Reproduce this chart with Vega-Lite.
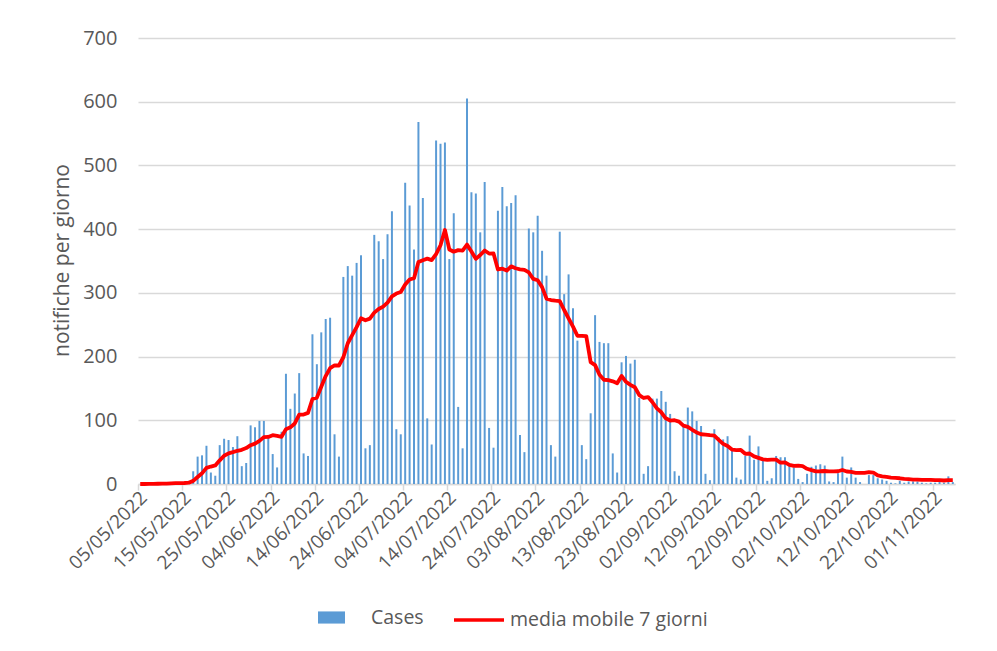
{
  "$schema": "https://vega.github.io/schema/vega-lite/v6.json",
  "width": 817,
  "height": 446,
  "autosize": {"type": "none"},
  "padding": {"left": 138, "top": 38, "right": 42, "bottom": 167},
  "background": "white",
  "config": {"view": {"stroke": null}, "font": "Open Sans"},
  "data": {"values": [
    {"d":"05/05/2022","c":0,"m":0},{"d":"06/05/2022","c":0,"m":0},{"d":"07/05/2022","c":2,"m":0.3},{"d":"08/05/2022","c":0,"m":0.3},{"d":"09/05/2022","c":1,"m":0.4},{"d":"10/05/2022","c":1,"m":0.6},{"d":"11/05/2022","c":1,"m":0.7},{"d":"12/05/2022","c":3,"m":1.1},{"d":"13/05/2022","c":1,"m":1.3},{"d":"14/05/2022","c":3,"m":1.4},{"d":"15/05/2022","c":1,"m":1.6},{"d":"16/05/2022","c":5,"m":2.1},{"d":"17/05/2022","c":20,"m":4.9},{"d":"18/05/2022","c":43,"m":10.9},{"d":"19/05/2022","c":45,"m":16.9},{"d":"20/05/2022","c":60,"m":25.3},{"d":"21/05/2022","c":18,"m":27.4},{"d":"22/05/2022","c":13,"m":29.1},{"d":"23/05/2022","c":61,"m":37.1},{"d":"24/05/2022","c":71,"m":44.4},{"d":"25/05/2022","c":69,"m":48.1},{"d":"26/05/2022","c":58,"m":50},{"d":"27/05/2022","c":75,"m":52.1},{"d":"28/05/2022","c":28,"m":53.6},{"d":"29/05/2022","c":33,"m":56.4},{"d":"30/05/2022","c":92,"m":60.9},{"d":"31/05/2022","c":89,"m":63.4},
    {"d":"01/06/2022","c":99,"m":67.7},{"d":"02/06/2022","c":99,"m":73.6},{"d":"03/06/2022","c":77,"m":73.9},{"d":"04/06/2022","c":47,"m":76.6},{"d":"05/06/2022","c":26,"m":75.6},{"d":"06/06/2022","c":82,"m":74.1},{"d":"07/06/2022","c":173,"m":86.1},{"d":"08/06/2022","c":118,"m":88.9},{"d":"09/06/2022","c":142,"m":95},{"d":"10/06/2022","c":174,"m":108.9},{"d":"11/06/2022","c":48,"m":109},{"d":"12/06/2022","c":44,"m":111.6},{"d":"13/06/2022","c":235,"m":133.4},{"d":"14/06/2022","c":188,"m":135.6},{"d":"15/06/2022","c":238,"m":152.7},{"d":"16/06/2022","c":259,"m":169.4},{"d":"17/06/2022","c":261,"m":181.9},{"d":"18/06/2022","c":78,"m":186.1},{"d":"19/06/2022","c":43,"m":186},{"d":"20/06/2022","c":325,"m":198.9},{"d":"21/06/2022","c":342,"m":220.9},{"d":"22/06/2022","c":327,"m":233.6},{"d":"23/06/2022","c":347,"m":246.1},{"d":"24/06/2022","c":359,"m":260.1},{"d":"25/06/2022","c":56,"m":257},{"d":"26/06/2022","c":61,"m":259.6},{"d":"27/06/2022","c":391,"m":269},{"d":"28/06/2022","c":381,"m":274.6},{"d":"29/06/2022","c":353,"m":278.3},{"d":"30/06/2022","c":392,"m":284.7},
    {"d":"01/07/2022","c":428,"m":294.6},{"d":"02/07/2022","c":86,"m":298.9},{"d":"03/07/2022","c":78,"m":301.3},{"d":"04/07/2022","c":473,"m":313},{"d":"05/07/2022","c":437,"m":321},{"d":"06/07/2022","c":368,"m":323.1},{"d":"07/07/2022","c":568,"m":348.3},{"d":"08/07/2022","c":449,"m":351.3},{"d":"09/07/2022","c":103,"m":353.7},{"d":"10/07/2022","c":62,"m":351.4},{"d":"11/07/2022","c":539,"m":360.9},{"d":"12/07/2022","c":534,"m":374.7},{"d":"13/07/2022","c":536,"m":398.7},{"d":"14/07/2022","c":353,"m":368},{"d":"15/07/2022","c":425,"m":364.6},{"d":"16/07/2022","c":121,"m":367.1},{"d":"17/07/2022","c":56,"m":366.3},{"d":"18/07/2022","c":605,"m":375.7},{"d":"19/07/2022","c":458,"m":364.9},{"d":"20/07/2022","c":456,"m":353.4},{"d":"21/07/2022","c":395,"m":359.4},{"d":"22/07/2022","c":474,"m":366.4},{"d":"23/07/2022","c":88,"m":361.7},{"d":"24/07/2022","c":57,"m":361.9},{"d":"25/07/2022","c":429,"m":336.7},{"d":"26/07/2022","c":466,"m":337.9},{"d":"27/07/2022","c":436,"m":335},{"d":"28/07/2022","c":441,"m":341.6},{"d":"29/07/2022","c":453,"m":338.6},{"d":"30/07/2022","c":77,"m":337},{"d":"31/07/2022","c":50,"m":336},
    {"d":"01/08/2022","c":401,"m":332},{"d":"02/08/2022","c":395,"m":321.9},{"d":"03/08/2022","c":421,"m":319.7},{"d":"04/08/2022","c":366,"m":309},{"d":"05/08/2022","c":327,"m":291},{"d":"06/08/2022","c":61,"m":288.7},{"d":"07/08/2022","c":43,"m":287.7},{"d":"08/08/2022","c":396,"m":287},{"d":"09/08/2022","c":298,"m":273.1},{"d":"10/08/2022","c":329,"m":260},{"d":"11/08/2022","c":276,"m":247.1},{"d":"12/08/2022","c":225,"m":232.6},{"d":"13/08/2022","c":61,"m":232.6},{"d":"14/08/2022","c":39,"m":232},{"d":"15/08/2022","c":111,"m":191.3},{"d":"16/08/2022","c":265,"m":186.6},{"d":"17/08/2022","c":223,"m":171.4},{"d":"18/08/2022","c":221,"m":163.6},{"d":"19/08/2022","c":221,"m":163},{"d":"20/08/2022","c":48,"m":161.1},{"d":"21/08/2022","c":18,"m":158.1},{"d":"22/08/2022","c":191,"m":169.6},{"d":"23/08/2022","c":201,"m":160.4},{"d":"24/08/2022","c":189,"m":155.6},{"d":"25/08/2022","c":195,"m":151.9},{"d":"26/08/2022","c":135,"m":139.6},{"d":"27/08/2022","c":16,"m":135},{"d":"28/08/2022","c":28,"m":136.4},{"d":"29/08/2022","c":134,"m":128.3},{"d":"30/08/2022","c":134,"m":118.7},{"d":"31/08/2022","c":146,"m":112.6},
    {"d":"01/09/2022","c":129,"m":103.1},{"d":"02/09/2022","c":110,"m":99.6},{"d":"03/09/2022","c":20,"m":100.1},{"d":"04/09/2022","c":13,"m":98},{"d":"05/09/2022","c":90,"m":91.7},{"d":"06/09/2022","c":120,"m":89.7},{"d":"07/09/2022","c":114,"m":85.1},{"d":"08/09/2022","c":99,"m":80.9},{"d":"09/09/2022","c":91,"m":78.1},{"d":"10/09/2022","c":16,"m":77.6},{"d":"11/09/2022","c":6,"m":76.6},{"d":"12/09/2022","c":86,"m":76},{"d":"13/09/2022","c":73,"m":69.3},{"d":"14/09/2022","c":70,"m":63},{"d":"15/09/2022","c":75,"m":59.6},{"d":"16/09/2022","c":53,"m":54.1},{"d":"17/09/2022","c":10,"m":53.3},{"d":"18/09/2022","c":7,"m":53.4},{"d":"19/09/2022","c":44,"m":47.4},{"d":"20/09/2022","c":76,"m":47.9},{"d":"21/09/2022","c":38,"m":43.3},{"d":"22/09/2022","c":59,"m":41},{"d":"23/09/2022","c":37,"m":38.7},{"d":"24/09/2022","c":5,"m":38},{"d":"25/09/2022","c":9,"m":38.3},{"d":"26/09/2022","c":44,"m":38.3},{"d":"27/09/2022","c":42,"m":33.4},{"d":"28/09/2022","c":42,"m":34},{"d":"29/09/2022","c":30,"m":29.9},{"d":"30/09/2022","c":26,"m":28.3},
    {"d":"01/10/2022","c":8,"m":28.7},{"d":"02/10/2022","c":3,"m":27.9},{"d":"03/10/2022","c":16,"m":23.9},{"d":"04/10/2022","c":27,"m":21.7},{"d":"05/10/2022","c":29,"m":19.9},{"d":"06/10/2022","c":31,"m":20},{"d":"07/10/2022","c":29,"m":20.4},{"d":"08/10/2022","c":4,"m":19.9},{"d":"09/10/2022","c":3,"m":19.9},{"d":"10/10/2022","c":17,"m":20},{"d":"11/10/2022","c":43,"m":22},{"d":"12/10/2022","c":10,"m":19.6},{"d":"13/10/2022","c":26,"m":18.9},{"d":"14/10/2022","c":10,"m":17.5},{"d":"15/10/2022","c":3,"m":17.5},{"d":"16/10/2022","c":0,"m":17.5},{"d":"17/10/2022","c":14,"m":18.5},{"d":"18/10/2022","c":14,"m":18},{"d":"19/10/2022","c":9,"m":13.5},{"d":"20/10/2022","c":7,"m":12},{"d":"21/10/2022","c":5,"m":11},{"d":"22/10/2022","c":2,"m":10},{"d":"23/10/2022","c":1,"m":9.5},{"d":"24/10/2022","c":5,"m":9},{"d":"25/10/2022","c":2,"m":8},{"d":"26/10/2022","c":4,"m":7.5},{"d":"27/10/2022","c":4,"m":7},{"d":"28/10/2022","c":4,"m":7},{"d":"29/10/2022","c":2,"m":6.5},{"d":"30/10/2022","c":1,"m":6.5},{"d":"31/10/2022","c":2,"m":6.5},
    {"d":"01/11/2022","c":2,"m":6},{"d":"02/11/2022","c":4,"m":6},{"d":"03/11/2022","c":2,"m":5.5},{"d":"04/11/2022","c":12,"m":6},{"d":"05/11/2022","c":3,"m":6}
  ]},
  "encoding": {
    "x": {
      "field": "d",
      "type": "ordinal",
      "sort": null,
      "scale": {"paddingInner": 0.55, "paddingOuter": 0.275},
      "axis": {
        "values": ["05/05/2022","15/05/2022","25/05/2022","04/06/2022","14/06/2022","24/06/2022","04/07/2022","14/07/2022","24/07/2022","03/08/2022","13/08/2022","23/08/2022","02/09/2022","12/09/2022","22/09/2022","02/10/2022","12/10/2022","22/10/2022","01/11/2022"],
        "bandPosition": 0,
        "tickOffset": -1.2,
        "title": null,
        "grid": false,
        "labelAngle": -45,
        "labelFont": "Open Sans",
        "labelFontSize": 19,
        "labelColor": "#595959",
        "labelOverlap": false,
        "labelPadding": -2,
        "labelOffset": -2,
        "tickSize": 6,
        "tickColor": "#d9d9d9",
        "tickWidth": 1.5,
        "domainColor": "#d9d9d9",
        "domainWidth": 1.5
      }
    }
  },
  "layer": [
    {
      "mark": {"type": "bar"},
      "encoding": {
        "y": {
          "field": "c",
          "type": "quantitative",
          "scale": {"domain": [0, 700], "nice": false},
          "axis": {
            "values": [0, 100, 200, 300, 400, 500, 600, 700],
            "grid": true,
            "gridColor": "#d9d9d9",
            "gridWidth": 1.5,
            "domain": false,
            "ticks": false,
            "tickSize": 0,
            "labelPadding": 21,
            "labelFont": "Open Sans",
            "labelFontSize": 20,
            "labelColor": "#595959",
            "title": "notifiche per giorno",
            "titleFont": "Open Sans",
            "titleFontSize": 21,
            "titleFontWeight": "normal",
            "titleColor": "#595959",
            "titleAngle": -90,
            "titleAlign": "center",
            "titleBaseline": "alphabetic",
            "titleX": -70,
            "titleY": 222
          }
        },
        "fill": {
          "datum": "Cases",
          "scale": {"domain": ["Cases"], "range": ["#5B9BD5"]},
          "legend": {
            "title": null,
            "orient": "none",
            "legendX": 180,
            "legendY": 566,
            "symbolType": "M-1,-0.45H1V0.45H-1Z",
            "symbolSize": 729,
            "symbolStrokeWidth": 0,
            "labelFont": "Open Sans",
            "labelFontSize": 19.5,
            "labelColor": "#595959",
            "labelOffset": 26,
            "labelLimit": 400
          }
        }
      }
    },
    {
      "mark": {"type": "line", "strokeWidth": 3.8, "strokeJoin": "round"},
      "encoding": {
        "y": {"field": "m", "type": "quantitative", "title": "notifiche per giorno"},
        "stroke": {
          "datum": "media mobile 7 giorni",
          "scale": {"domain": ["media mobile 7 giorni"], "range": ["#FF0000"]},
          "legend": {
            "title": null,
            "orient": "none",
            "legendX": 314,
            "legendY": 555,
            "symbolType": "stroke",
            "symbolSize": 2500,
            "symbolStrokeWidth": 3.5,
            "labelFont": "Open Sans",
            "labelFontSize": 19.5,
            "labelColor": "#595959",
            "labelOffset": 4,
            "labelLimit": 400
          }
        }
      }
    }
  ]
}
